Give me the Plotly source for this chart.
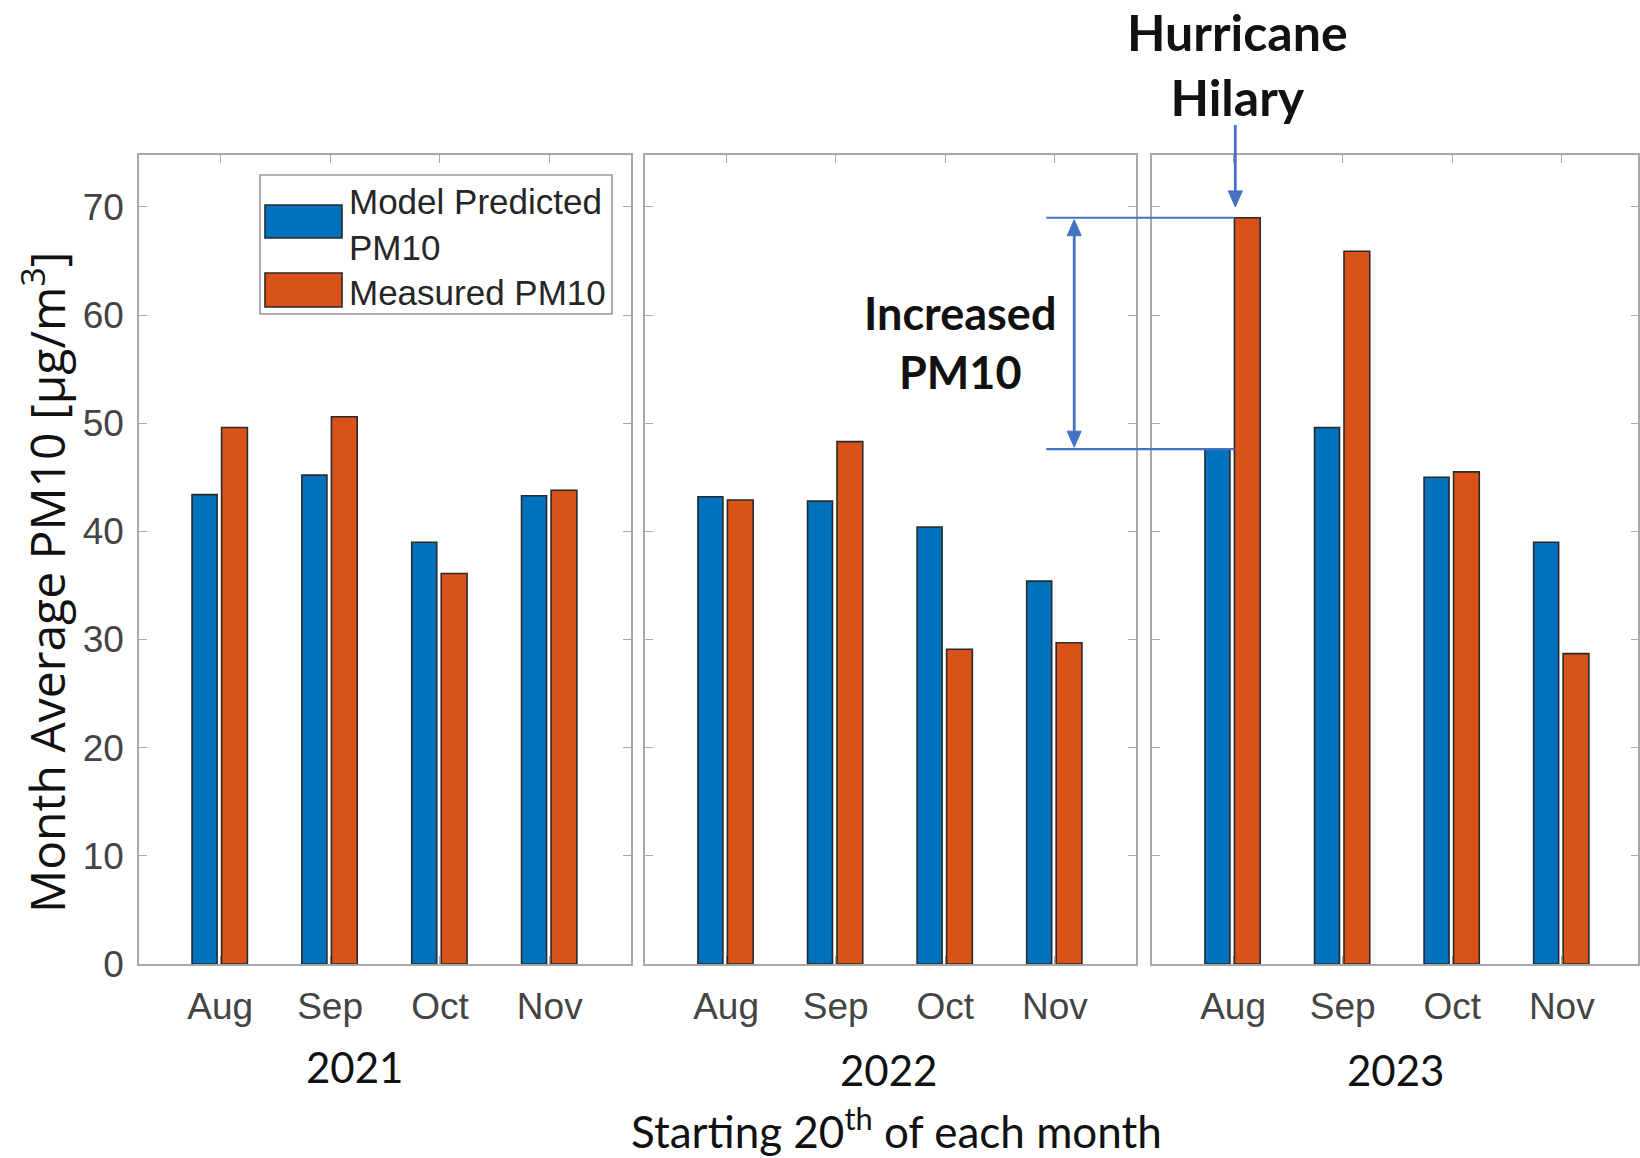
import plotly.graph_objects as go

# ---- data -------------------------------------------------------------
years = ["2021", "2022", "2023"]
months = ["Aug", "Sep", "Oct", "Nov"]
month_pos = [1, 2, 3, 4]

predicted_2021 = [43.4, 45.2, 39.0, 43.3]
measured_2021 = [49.6, 50.6, 36.1, 43.8]
predicted_2022 = [43.2, 42.8, 40.4, 35.4]
measured_2022 = [42.9, 48.3, 29.1, 29.7]
predicted_2023 = [47.6, 49.6, 45.0, 39.0]
measured_2023 = [69.0, 65.9, 45.5, 28.7]

predicted = [predicted_2021, predicted_2022, predicted_2023]
measured = [measured_2021, measured_2022, measured_2023]

series_names = ["Model Predicted<br>PM10", "Measured PM10"]
y_ticks = [0, 10, 20, 30, 40, 50, 60, 70]

# ---- layout constants -------------------------------------------------
W, H = 1640, 1158
ML, MR, MT, MB = 139, 0, 155, 194
PW, PH = W - ML - MR, H - MT - MB
Y_RANGE = [0, 74.8]
X_RANGES = [[0.26, 4.74], [0.26, 4.74], [0.26, 4.70]]
DOMAINS = [[0.0, 0.3278], [0.3371, 0.6642], [0.6749, 0.999]]

BLUE = "#0072BD"
ORANGE = "#D95319"
EDGE = "#2a2a2a"
AXIS = "#a8a8a8"
NOTE = "#4472C4"
TICKFONT = dict(family="Liberation Sans, Arial, sans-serif", size=37, color="#444444")
CAL = "Lato, Open Sans, sans-serif"


def px_x(px):
    return (px - ML) / PW


def px_y(py):
    return (H - MB - py) / PH


def data_y(v):
    return (v - Y_RANGE[0]) / (Y_RANGE[1] - Y_RANGE[0])


def data_x(panel, v):
    r0, r1 = X_RANGES[panel]
    d0, d1 = DOMAINS[panel]
    return d0 + (v - r0) / (r1 - r0) * (d1 - d0)


def arrow_head(x, y, direction, length=16, half_width=7):
    """Filled triangle (paper coords) with its tip at (x, y); direction +1 points up, -1 down."""
    dy = length / PH * direction
    dx = half_width / PW
    return (f"M {x},{y} L {x - dx},{y - dy} L {x + dx},{y - dy} Z")


fig = go.Figure()

for i, yr in enumerate(years):
    xa = "x" if i == 0 else f"x{i + 1}"
    ya = "y" if i == 0 else f"y{i + 1}"
    fig.add_trace(go.Bar(
        x=month_pos, y=predicted[i], name=series_names[0],
        width=0.228, offset=-0.257,
        marker=dict(color=BLUE, line=dict(color=EDGE, width=1.6)),
        xaxis=xa, yaxis=ya, showlegend=False))
    fig.add_trace(go.Bar(
        x=month_pos, y=measured[i], name=series_names[1],
        width=0.235, offset=0.012,
        marker=dict(color=ORANGE, line=dict(color=EDGE, width=1.6)),
        xaxis=xa, yaxis=ya, showlegend=False))

axis_common = dict(showline=True, linecolor=AXIS, linewidth=1.6, mirror="ticks",
                   ticks="inside", ticklen=8, tickwidth=1.4, tickcolor=AXIS,
                   showgrid=False, zeroline=False, layer="below traces")

layout = dict(
    width=W, height=H,
    margin=dict(l=ML, r=MR, t=MT, b=MB),
    paper_bgcolor="white", plot_bgcolor="white",
    barmode="overlay",
    showlegend=False,
)

for i in range(3):
    xk = "xaxis" if i == 0 else f"xaxis{i + 1}"
    yk = "yaxis" if i == 0 else f"yaxis{i + 1}"
    ya_id = "y" if i == 0 else f"y{i + 1}"
    xa_id = "x" if i == 0 else f"x{i + 1}"
    layout[xk] = dict(axis_common, domain=DOMAINS[i], range=X_RANGES[i],
                      tickvals=month_pos, ticktext=months, tickfont=TICKFONT,
                      ticklabelstandoff=9, anchor=ya_id)
    layout[yk] = dict(axis_common, domain=[0, 1], range=Y_RANGE,
                      tickvals=y_ticks, tickfont=TICKFONT,
                      showticklabels=(i == 0), ticklabelstandoff=6,
                      anchor=xa_id)

fig.update_layout(**layout)

annotations = []
shapes = []

# axis title
annotations.append(dict(
    text="Month Average PM10 [μg/m<sup>3</sup>]", textangle=-90,
    x=px_x(44), y=px_y(583), xref="paper", yref="paper",
    xanchor="center", yanchor="middle", showarrow=False,
    font=dict(family="Open Sans, sans-serif", size=48, color="#111")))

# year labels under each panel
year_centers = [(354, 1067), (888, 1070), (1395, 1070)]
for yr, (cx, cy) in zip(years, year_centers):
    annotations.append(dict(
        text=yr, x=px_x(cx), y=px_y(cy), xref="paper", yref="paper",
        xanchor="center", yanchor="middle", showarrow=False,
        font=dict(family=CAL, size=42, color="#111")))

annotations.append(dict(
    text="Starting 20<sup>th</sup> of each month",
    x=px_x(897), y=px_y(1128), xref="paper", yref="paper",
    xanchor="center", yanchor="middle", showarrow=False,
    font=dict(family=CAL, size=44, color="#111")))

# legend box (drawn in panel 1)
shapes.append(dict(type="rect", xref="paper", yref="paper",
                   x0=px_x(260), x1=px_x(612), y0=px_y(175), y1=px_y(314),
                   line=dict(color="#9a9a9a", width=1.6), fillcolor="white",
                   layer="above"))
swatches = [(BLUE, 205, 238), (ORANGE, 273, 307)]
for color, t, b in swatches:
    shapes.append(dict(type="rect", xref="paper", yref="paper",
                       x0=px_x(265), x1=px_x(342), y0=px_y(b), y1=px_y(t),
                       line=dict(color=EDGE, width=1.6), fillcolor=color,
                       layer="above"))
legend_text_y = [224, 292]
for name, ty in zip(series_names, legend_text_y):
    annotations.append(dict(
        text=name, x=px_x(347), y=px_y(ty), xref="paper", yref="paper",
        xanchor="left", yanchor="middle", align="left", showarrow=False,
        font=dict(family="Liberation Sans, Arial, sans-serif", size=35, color="#262626")))

# Hurricane Hilary callout on Aug 2023
aug_top = measured_2023[0]
aug_pred = predicted_2023[0]
bar_left = month_pos[0] + 0.012
line_start = -0.705
arrow_x = -0.45

for v in (aug_top, aug_pred):
    shapes.append(dict(type="line", xref="paper", yref="paper",
                       x0=data_x(2, line_start), x1=data_x(2, bar_left),
                       y0=data_y(v), y1=data_y(v),
                       line=dict(color=NOTE, width=2.2), layer="above"))

# double-headed arrow spanning the increase
ax_p = data_x(2, arrow_x)
top_tip = data_y(aug_top) - 2 / PH
bot_tip = data_y(aug_pred) + 2 / PH
shapes.append(dict(type="line", xref="paper", yref="paper",
                   x0=ax_p, x1=ax_p, y0=top_tip - 10 / PH, y1=bot_tip + 10 / PH,
                   line=dict(color=NOTE, width=2.8), layer="above"))
shapes.append(dict(type="path", xref="paper", yref="paper",
                   path=arrow_head(ax_p, top_tip, +1),
                   fillcolor=NOTE, line=dict(color=NOTE, width=1), layer="above"))
shapes.append(dict(type="path", xref="paper", yref="paper",
                   path=arrow_head(ax_p, bot_tip, -1),
                   fillcolor=NOTE, line=dict(color=NOTE, width=1), layer="above"))

# pointer from the label down to the Aug 2023 bar
hx = data_x(2, month_pos[0] + 0.02)
h_tip = data_y(aug_top + 1.0)
shapes.append(dict(type="line", xref="paper", yref="paper",
                   x0=hx, x1=hx, y0=px_y(125), y1=h_tip + 10 / PH,
                   line=dict(color=NOTE, width=2.8), layer="above"))
shapes.append(dict(type="path", xref="paper", yref="paper",
                   path=arrow_head(hx, h_tip, -1),
                   fillcolor=NOTE, line=dict(color=NOTE, width=1), layer="above"))

annotations.append(dict(
    text="<b>Hurricane</b><br><b>Hilary</b>", x=px_x(1237), y=px_y(64),
    xref="paper", yref="paper", xanchor="center", yanchor="middle",
    showarrow=False, font=dict(family=CAL, size=50, color="#111")))

annotations.append(dict(
    text="<b>Increased</b><br><b>PM10</b>", x=px_x(960), y=px_y(342),
    xref="paper", yref="paper", xanchor="center", yanchor="middle",
    showarrow=False, font=dict(family=CAL, size=45, color="#111")))

fig.update_layout(annotations=annotations, shapes=shapes)

fig.write_html("out.html")
